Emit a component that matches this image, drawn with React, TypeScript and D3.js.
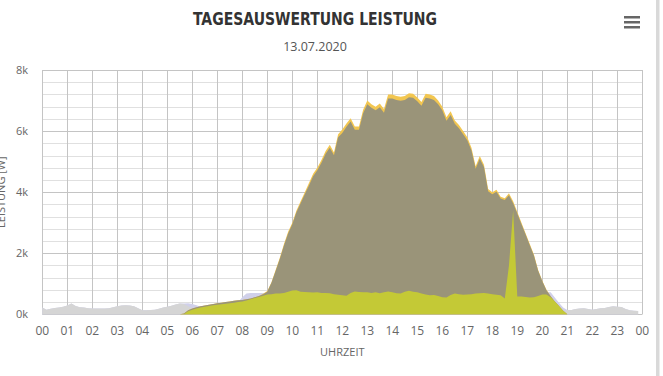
import React from "react";
import * as d3 from "d3";

// ---- data (10-minute steps, 00:00 .. 24:00) ----
const STEP_MIN = 10;

const HOUR_LABELS = ["00","01","02","03","04","05","06","07","08","09","10","11","12","13","14","15","16","17","18","19","20","21","22","23","00"];
const Y_TICKS = [0, 2000, 4000, 6000, 8000];
const Y_MINOR_STEP = 400;

// total consumption (lavender)
const verbrauch: (number | null)[] = [
  220,150,180,210,220,250,
  290,350,270,230,220,200,
  190,190,190,190,200,230,
  260,290,300,290,260,200,
  130,130,140,150,180,220,
  250,280,320,350,350,360,
  340,300,250,250,270,295,
  310,330,345,360,380,400,
  560,680,700,700,700,700,
  700,700,700,700,740,780,
  790,790,740,730,720,710,
  720,700,700,690,660,640,
  620,610,700,750,730,720,
  720,700,720,690,720,750,
  720,690,680,740,770,740,
  720,680,650,620,630,600,
  560,550,630,680,660,640,
  650,660,680,690,700,680,
  660,640,620,520,1600,3400,
  580,580,570,550,560,600,
  650,720,720,550,380,220,
  140,140,170,190,200,170,
  150,170,200,210,240,260,
  250,240,170,130,120,110,
  null,
];

// grid import (gray)
const netzbezug: (number | null)[] = [
  220,150,180,210,220,250,
  290,350,270,230,220,200,
  190,190,190,190,200,230,
  260,290,300,290,260,200,
  130,130,140,150,180,220,
  250,280,320,350,340,260,
  190,110,30,0,0,0,
  0,0,0,0,0,0,
  140,230,210,170,130,90,
  0,0,0,0,0,0,
  0,0,0,0,0,0,
  0,0,0,0,0,0,
  0,0,0,0,0,0,
  0,0,0,0,0,0,
  0,0,0,0,0,0,
  0,0,0,0,0,0,
  0,0,0,0,0,0,
  0,0,0,0,0,0,
  0,0,0,0,0,0,
  0,0,0,0,0,0,
  0,70,160,130,110,100,
  140,140,170,190,200,170,
  150,170,200,210,240,260,
  250,240,170,130,120,110,
  null,
];

// PV generation DC (yellow band)
const erzeugungDC: number[] = [
  0,0,0,0,0,0,
  0,0,0,0,0,0,
  0,0,0,0,0,0,
  0,0,0,0,0,0,
  0,0,0,0,0,0,
  0,0,0,0,30,130,
  190,230,260,290,310,340,
  360,380,400,420,440,460,
  470,490,520,560,600,670,
  760,1050,1450,1850,2300,2700,
  3000,3400,3700,4000,4300,4600,
  4800,5050,5350,5550,5300,5900,
  6050,6250,6420,6150,6150,6700,
  7000,6880,6800,6900,6720,7200,
  7200,7150,7120,7150,7240,7220,
  7100,6950,7220,7200,7150,7000,
  6800,6450,6650,6350,6200,6000,
  5800,5450,4850,5180,4900,4100,
  4000,4080,3850,3800,3960,3700,
  3350,3000,2650,2300,1950,1450,
  1100,800,600,420,270,120,
  0,0,0,0,0,0,
  0,0,0,0,0,0,
  0,0,0,0,0,0,
  0,
];

// PV generation AC (khaki)
const erzeugungAC: number[] = [
  0,0,0,0,0,0,
  0,0,0,0,0,0,
  0,0,0,0,0,0,
  0,0,0,0,0,0,
  0,0,0,0,0,0,
  0,0,0,0,30,130,
  190,230,260,290,310,340,
  360,380,400,420,440,460,
  470,490,520,560,600,660,
  740,1030,1420,1810,2250,2650,
  2950,3340,3640,3930,4220,4520,
  4720,4960,5260,5450,5210,5800,
  5940,6140,6310,6040,6040,6580,
  6880,6760,6680,6780,6600,7070,
  7070,7020,6990,7020,7110,7090,
  6980,6830,7090,7070,7020,6880,
  6680,6340,6530,6240,6090,5900,
  5700,5360,4770,5090,4820,4030,
  3930,4010,3790,3740,3900,3640,
  3300,2950,2610,2260,1920,1430,
  1080,790,590,420,270,120,
  0,0,0,0,0,0,
  0,0,0,0,0,0,
  0,0,0,0,0,0,
  0,
];

// self consumption (yellow-green)
const eigenverbrauch: number[] = [
  0,0,0,0,0,0,
  0,0,0,0,0,0,
  0,0,0,0,0,0,
  0,0,0,0,0,0,
  0,0,0,0,0,0,
  0,0,0,0,10,100,
  150,190,220,250,270,295,
  310,330,345,360,380,400,
  420,450,490,530,570,610,
  650,660,680,680,700,740,
  780,790,740,730,720,710,
  720,700,700,690,660,640,
  620,610,700,750,730,720,
  720,700,720,690,720,750,
  720,690,680,740,770,740,
  720,680,650,620,630,600,
  560,550,630,680,660,640,
  650,660,680,690,700,680,
  660,640,620,520,1600,3400,
  580,580,570,550,560,600,
  650,650,560,420,270,120,
  0,0,0,0,0,0,
  0,0,0,0,0,0,
  0,0,0,0,0,0,
  0,
];

const W = 663;
const H = 376;

export default function App() {
  const x = d3.scaleLinear().domain([0, 1440]).range([42.3, 642.3]);
  const y = d3.scaleLinear().domain([0, 8000]).range([314.3, 70]);

  const area = d3
    .area<number | null>()
    .defined((d) => d != null)
    .x((_, i) => x(i * STEP_MIN))
    .y0(y(0))
    .y1((d) => y(d as number));

  const minorTicks = d3.range(0, 8000 + 1, Y_MINOR_STEP);
  const hourTicks = HOUR_LABELS.map((_, i) => i * 60);
  const labelFont = "'Open Sans', 'DejaVu Sans', sans-serif";

  return (
    <svg
      width={W}
      height={H}
      viewBox={`0 0 ${W} ${H}`}
      style={{ position: "absolute", left: 0, top: 0, background: "#fff" }}
    >
      <rect x={0} y={0} width={W} height={H} fill="#ffffff" />

      {/* grid */}
      {minorTicks.map((v) => (
        <line
          key={"h" + v}
          x1={x(0)}
          x2={x(1440)}
          y1={Math.round(y(v)) + 0.5}
          y2={Math.round(y(v)) + 0.5}
          stroke={v % 2000 === 0 ? "#c4c4c4" : "#e0e0e0"}
          strokeWidth={1}
        />
      ))}
      {hourTicks.map((t) => (
        <line
          key={"v" + t}
          x1={Math.round(x(t)) + 0.5}
          x2={Math.round(x(t)) + 0.5}
          y1={y(8000)}
          y2={y(0)}
          stroke="#c4c4c4"
          strokeWidth={1}
        />
      ))}

      {/* series */}
      <path d={area(verbrauch) || ""} fill="#d0d0ea" />
      <path d={area(netzbezug) || ""} fill="#d5d5d5" />
      <path d={area(erzeugungDC) || ""} fill="#f2c650" />
      <path d={area(erzeugungAC) || ""} fill="#9a9479" />
      <path d={area(eigenverbrauch) || ""} fill="#c4c936" />

      {/* y axis labels */}
      {Y_TICKS.map((v) => (
        <text
          key={"yl" + v}
          x={28}
          y={y(v)}
          dy="0.35em"
          textAnchor="end"
          fontFamily={labelFont}
          fontSize={11}
          fill="#666"
        >
          {v / 1000 + "k"}
        </text>
      ))}

      {/* x axis labels */}
      {HOUR_LABELS.map((lab, i) => (
        <text
          key={"xl" + i}
          x={x(i * 60)}
          y={335}
          textAnchor="middle"
          fontFamily={labelFont}
          fontSize={12}
          fill="#666"
        >
          {lab}
        </text>
      ))}

      {/* axis titles */}
      <text
        x={x(720)}
        y={356}
        textAnchor="middle"
        fontFamily={labelFont}
        fontSize={11}
        fill="#666"
      >
        UHRZEIT
      </text>
      <text
        transform={`translate(5, ${(y(0) + y(8000)) / 2}) rotate(-90)`}
        textAnchor="middle"
        fontFamily={labelFont}
        fontSize={11}
        fill="#666"
      >
        LEISTUNG [W]
      </text>

      {/* title */}
      <text
        x={315}
        y={25}
        textAnchor="middle"
        fontFamily="'Liberation Sans Narrow', 'DejaVu Sans Condensed', 'Arial Narrow', sans-serif"
        fontStretch="condensed"
        fontWeight="bold"
        fontSize={18}
        fill="#333"
        textLength={244}
        lengthAdjust="spacingAndGlyphs"
      >
        TAGESAUSWERTUNG LEISTUNG
      </text>
      <text
        x={315}
        y={51}
        textAnchor="middle"
        fontFamily={labelFont}
        fontSize={12.5}
        fill="#555"
      >
        13.07.2020
      </text>

      {/* menu icon */}
      {[16, 21, 26].map((yy) => (
        <rect key={"m" + yy} x={624} y={yy} width={16} height={2.5} fill="#666" />
      ))}

      {/* right edge bar */}
      <rect x={656} y={0} width={3.5} height={H} fill="#d9d9d9" />
    </svg>
  );
}
